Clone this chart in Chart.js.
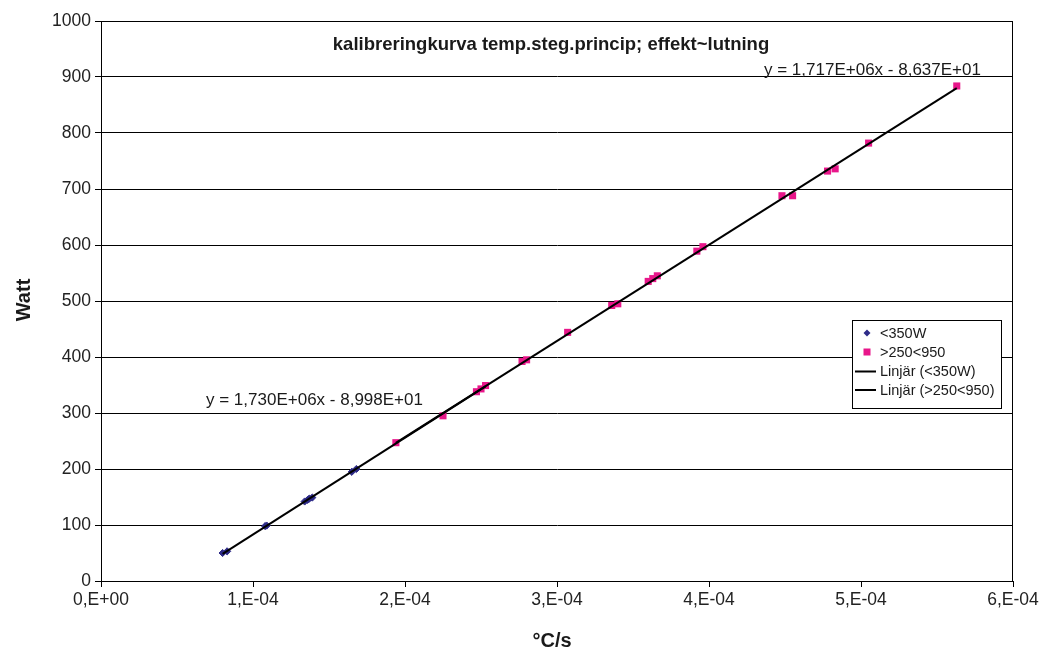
<!DOCTYPE html>
<html>
<head>
<meta charset="utf-8">
<script src="https://cdn.jsdelivr.net/npm/chart.js@4/dist/chart.umd.min.js"></script>
<style>
  html, body { margin: 0; padding: 0; background: #fff; }
  #wrap { width: 1039px; height: 651px; }
</style>
</head>
<body>
<div id="wrap"><canvas id="c" width="1039" height="651"></canvas></div>
<script>
// Measurements: heating rate (°C/s) vs. power (W)
const lowRateX  = [0.80e-4, 0.83e-4, 1.08e-4, 1.09e-4, 1.34e-4, 1.36e-4, 1.37e-4, 1.39e-4, 1.65e-4, 1.68e-4];
const lowPowerY = [50, 53, 98, 99, 142, 145, 147, 149, 195, 200];

const highRateX  = [1.94e-4, 2.25e-4, 2.47e-4, 2.50e-4, 2.53e-4, 2.77e-4, 2.80e-4, 3.07e-4, 3.36e-4, 3.40e-4,
                    3.60e-4, 3.63e-4, 3.66e-4, 3.92e-4, 3.96e-4, 4.48e-4, 4.55e-4, 4.78e-4, 4.83e-4, 5.05e-4, 5.63e-4];
const highPowerY = [247, 295, 338, 343, 349, 392, 395, 444, 492, 495,
                    535, 540, 545, 589, 597, 688, 688, 732, 736, 782, 884];

// Linear fits (slope, intercept) and the x-span each fit covers
const lowFit  = [1.730e6, -89.98];
const highFit = [1.717e6, -86.37];
const lowFitRange  = [0.80e-4, 2.53e-4];
const highFitRange = [1.94e-4, 5.63e-4];

const seriesNames = ['<350W', '>250<950', 'Linjär (<350W)', 'Linjär (>250<950)'];
const lowFitLabel  = 'y = 1,730E+06x - 8,998E+01';
const highFitLabel = 'y = 1,717E+06x - 8,637E+01';
const chartTitle = 'kalibreringkurva temp.steg.princip; effekt~lutning';
const xTitle = '°C/s';
const yTitle = 'Watt';
const xTickValues = [0, 1, 2, 3, 4, 5, 6];

const FONT = "'Liberation Sans', Arial, sans-serif";

const pts = (xs, ys) => xs.map((x, i) => ({ x: x, y: ys[i] }));
const fitLine = (fit, range) => range.map(x => ({ x: x, y: fit[0] * x + fit[1] }));

const texts = {
  id: 'texts',
  afterDraw(chart) {
    const ctx = chart.ctx;
    const a = chart.chartArea;
    ctx.save();
    // plot frame
    ctx.strokeStyle = '#000';
    ctx.lineWidth = 1;
    ctx.strokeRect(Math.round(a.left) + 0.5, Math.round(a.top) + 0.5,
                   Math.round(a.right - a.left) - 1, Math.round(a.bottom - a.top));
    ctx.fillStyle = '#1a1a1a';
    ctx.textBaseline = 'alphabetic';
    // title
    ctx.font = 'bold 18.5px ' + FONT;
    ctx.textAlign = 'center';
    ctx.fillText(chartTitle, 551, 50);
    // fit equations
    ctx.font = '17px ' + FONT;
    ctx.textAlign = 'left';
    ctx.fillText(lowFitLabel, 206, 405);
    ctx.fillText(highFitLabel, 764, 75);
    // axis titles
    ctx.font = 'bold 20px ' + FONT;
    ctx.textAlign = 'center';
    ctx.fillText(xTitle, 552, 647);
    ctx.save();
    ctx.translate(30, 300);
    ctx.rotate(-Math.PI / 2);
    ctx.fillText(yTitle, 0, 0);
    ctx.restore();

    // legend
    const lx = 852, ly = 320, lw = 149, lh = 88;
    ctx.fillStyle = '#fff';
    ctx.fillRect(lx, ly, lw, lh);
    ctx.strokeStyle = '#000';
    ctx.strokeRect(lx + 0.5, ly + 0.5, lw, lh);
    ctx.font = '14.5px ' + FONT;
    ctx.textAlign = 'left';
    ctx.textBaseline = 'middle';
    const ds = chart.data.datasets;
    const rows = [333, 352, 371.5, 390];
    rows.forEach((ry, i) => {
      const d = ds[i];
      const mx = 867;
      if (d.pointStyle === 'rectRot') {
        ctx.fillStyle = d.backgroundColor;
        ctx.beginPath();
        ctx.moveTo(mx, ry - 3.5); ctx.lineTo(mx + 3.5, ry); ctx.lineTo(mx, ry + 3.5); ctx.lineTo(mx - 3.5, ry);
        ctx.closePath(); ctx.fill();
      } else if (d.pointStyle === 'rect') {
        ctx.fillStyle = d.backgroundColor;
        ctx.fillRect(mx - 3.5, ry - 3.5, 7, 7);
      } else {
        ctx.strokeStyle = d.borderColor;
        ctx.lineWidth = 2;
        ctx.beginPath(); ctx.moveTo(855, ry); ctx.lineTo(876, ry); ctx.stroke();
      }
      ctx.fillStyle = '#1a1a1a';
      ctx.fillText(d.label, 880, ry + 0.5);
    });
    ctx.restore();
  }
};

new Chart(document.getElementById('c'), {
  type: 'scatter',
  data: {
    datasets: [
      { label: seriesNames[0], data: pts(lowRateX, lowPowerY), pointStyle: 'rectRot',
        radius: 3.6, backgroundColor: '#2e2b88', borderColor: '#2e2b88', borderWidth: 1, order: 3 },
      { label: seriesNames[1], data: pts(highRateX, highPowerY), pointStyle: 'rect',
        radius: 5, backgroundColor: '#e8168a', borderColor: '#e8168a', borderWidth: 0, order: 2 },
      { label: seriesNames[2], data: fitLine(lowFit, lowFitRange), showLine: true, pointRadius: 0,
        borderColor: '#000', borderWidth: 2, order: 1 },
      { label: seriesNames[3], data: fitLine(highFit, highFitRange), showLine: true, pointRadius: 0,
        borderColor: '#000', borderWidth: 2, order: 0 }
    ]
  },
  options: {
    responsive: false,
    animation: false,
    events: [],
    layout: { padding: { left: 0, top: 21, right: 26, bottom: 0 } },
    plugins: { legend: { display: false }, tooltip: { enabled: false }, title: { display: false } },
    scales: {
      x: {
        type: 'linear', min: 0, max: 6e-4,
        afterBuildTicks: s => { s.ticks = xTickValues.map(v => ({ value: v * 1e-4 })); },
        afterFit: s => { s.height = 70; s.paddingRight = 0; s.paddingLeft = 0; },
        ticks: {
          color: '#222', font: { family: FONT, size: 17.5 }, padding: 3, maxRotation: 0,
          callback: v => { const n = Math.round(v / 1e-4); return n === 0 ? '0,E+00' : n + ',E-04'; }
        },
        grid: { drawOnChartArea: false, color: '#000', tickLength: 6, lineWidth: 1 },
        border: { color: '#000', width: 1 }
      },
      y: {
        min: 0, max: 1000,
        afterFit: s => { s.width = 101; s.paddingTop = 0; s.paddingBottom = 0; },
        ticks: { stepSize: 100, color: '#222', font: { family: FONT, size: 17.5 }, padding: 4,
                 callback: v => String(v) },
        grid: { color: '#000', tickLength: 6, lineWidth: 1 },
        border: { color: '#000', width: 1 }
      }
    }
  },
  plugins: [texts]
});
</script>
</body>
</html>
